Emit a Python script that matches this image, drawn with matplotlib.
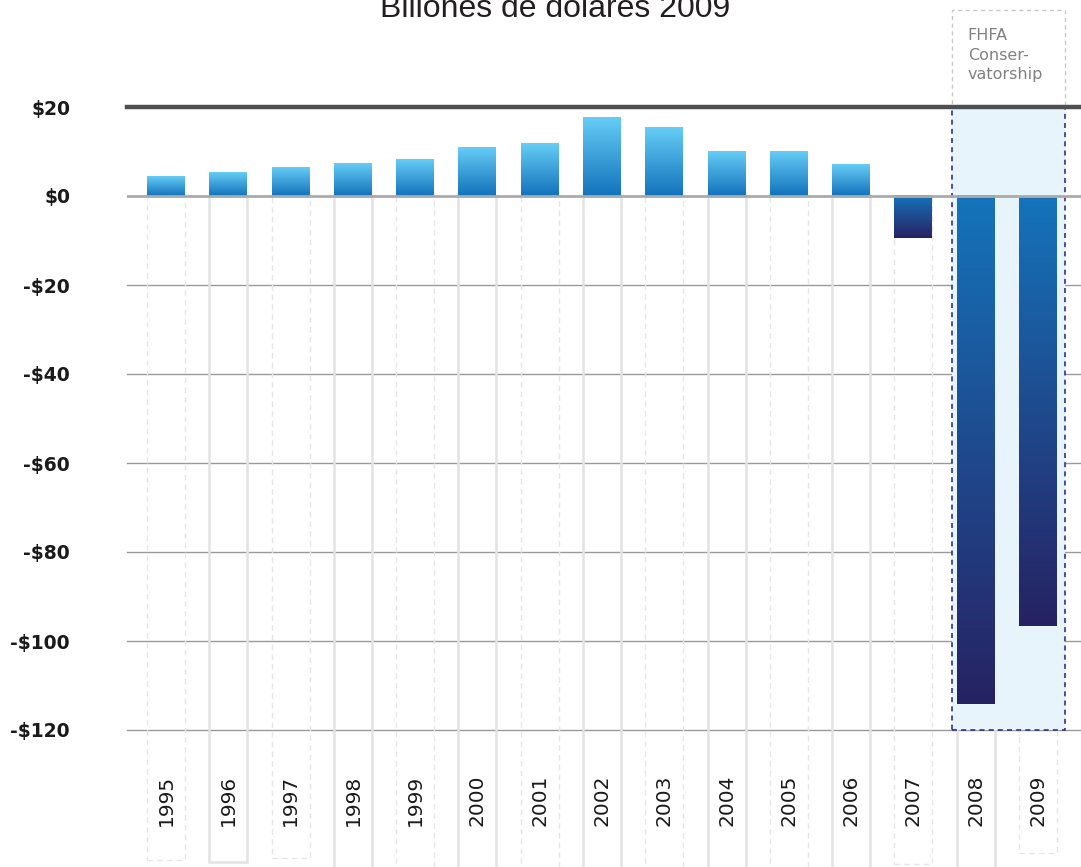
import numpy as np
import matplotlib
matplotlib.use("Agg")
import matplotlib.pyplot as plt
from matplotlib.colors import LinearSegmentedColormap
from matplotlib.patches import Rectangle

# ---- data ----
years = ["1995", "1996", "1997", "1998", "1999", "2000", "2001", "2002",
         "2003", "2004", "2005", "2006", "2007", "2008", "2009"]
values = [4.3, 5.2, 6.3, 7.4, 8.3, 11.0, 11.9, 17.6, 15.5, 9.9, 9.9, 7.0,
          -9.5, -114.2, -96.6]
yticks = [20, 0, -20, -40, -60, -80, -100, -120]
ytick_labels = ["$20", "$0", "-$20", "-$40", "-$60", "-$80", "-$100", "-$120"]
title = "Billones de dolares 2009"
note = "FHFA\nConser-\nvatorship"
# decorative column outline depths (data units below zero)
col_depth = [-149.3, -149.7, -148.8, -151.1, -150.9, -150.9, -150.9, -151.1,
             -150.9, -151.1, -150.9, -151.1, -150.2, -152.0, -147.7]

W, H = 1081, 867
fig = plt.figure(figsize=(W / 100, H / 100), dpi=100)
ax = fig.add_axes([127 / W, (H - 730) / H, (W - 127) / W, (730 - 107) / H])
ax.set_ylim(-120, 20)
ax.set_xlim(-0.626, 14.69)
for s in ax.spines.values():
    s.set_visible(False)
ax.set_xticks([])
ax.set_yticks(yticks)
ax.set_yticklabels(ytick_labels, fontsize=13.5, fontweight="bold", color="#1a1a1a",
                   family="DejaVu Sans")
ax.tick_params(axis="y", length=0, pad=41)

# gridlines
for t in yticks:
    if t == 20:
        ax.axhline(t, color="#4d4f50", lw=3.2, zorder=5, clip_on=False)
    elif t == 0:
        ax.axhline(t, color="#aaaaaa", lw=2.0, zorder=4)
    else:
        ax.axhline(t, color="#9a9a9a", lw=1.0, zorder=1, clip_on=False)

bw = 0.61
x = np.arange(len(years))

# column outlines below zero
for i, (xi, d) in enumerate(zip(x, col_depth)):
    if i % 2 == 0:
        r = Rectangle((xi - bw / 2, d), bw, -d, fill=False, ec="#e6e6e6",
                      lw=1.0, ls=(0, (4, 3)), zorder=1.5, clip_on=False)
    else:
        r = Rectangle((xi - bw / 2, d), bw, -d, fill=False, ec="#e3e3e3",
                      lw=1.8, zorder=1.5, clip_on=False)
    ax.add_patch(r)

# conservatorship shading
x0, x1 = 12.62, 14.43
shade = Rectangle((x0, -120), x1 - x0, 140, fc="#e8f4fb", ec="#2e3192", lw=1.2,
                  ls=(0, (3, 2.5)), zorder=2, clip_on=False)
ax.add_patch(shade)
box = Rectangle((x0, 20), x1 - x0, 21.8, fill=False, ec="#c8c8c8", lw=1.0,
                ls=(0, (3, 2.5)), zorder=2, clip_on=False)
ax.add_patch(box)
ax.text(x0 + 0.25, 37.8, note, fontsize=11.5, color="#808080", va="top", ha="left",
        linespacing=1.4, family="DejaVu Sans", clip_on=False)

# gradient bars
pos_cmap = LinearSegmentedColormap.from_list("p", ["#1272bb", "#66cdf6"])
neg_cmap = LinearSegmentedColormap.from_list(
    "n", [(0.0, "#262262"), (0.5, "#1f4a8e"), (1.0, "#1474bb")])
grad = np.linspace(0, 1, 256).reshape(-1, 1)
for xi, v in zip(x, values):
    if v >= 0:
        ext = (xi - bw / 2, xi + bw / 2, 0, v)
        cmap = pos_cmap
    else:
        ext = (xi - bw / 2, xi + bw / 2, v, 0)
        cmap = neg_cmap
    ax.imshow(grad, extent=ext, origin="lower", aspect="auto", cmap=cmap,
              zorder=3, interpolation="bilinear")

ax.set_xlim(-0.626, 14.69)
ax.set_ylim(-120, 20)

# x labels
for xi, yr in zip(x, years):
    ax.text(xi, -135.8, yr, rotation=90, ha="center", va="center", fontsize=14.5,
            color="#1a1a1a", family="DejaVu Sans", clip_on=False)

fig.text(555 / W, 1 - 9 / H, title, ha="center", va="center", fontsize=23,
         color="#231f20", family="Liberation Sans")

fig.savefig("out.png", dpi=100)
